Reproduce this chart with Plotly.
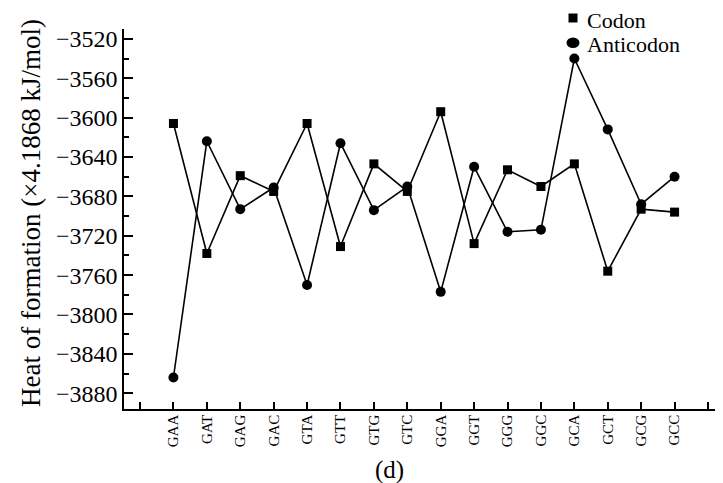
import plotly.graph_objects as go

codons = ["GAA", "GAT", "GAG", "GAC", "GTA", "GTT", "GTG", "GTC",
          "GGA", "GGT", "GGG", "GGC", "GCA", "GCT", "GCG", "GCC"]
codon_vals = [-3606, -3738, -3659, -3675, -3606, -3731, -3647, -3675,
              -3594, -3728, -3653, -3670, -3647, -3756, -3693, -3696]
anticodon_vals = [-3864, -3624, -3693, -3671, -3770, -3626, -3694, -3670,
                  -3777, -3650, -3716, -3714, -3540, -3612, -3688, -3660]
y_ticks = [-3520, -3560, -3600, -3640, -3680, -3720, -3760, -3800, -3840, -3880]

xpos = list(range(1, len(codons) + 1))
tickvals = [0] + xpos + [len(codons) + 1]
ticktext = [""] + codons + [""]

FONT = "Liberation Serif"

# page body has an 8px margin; positions below are screen pixels minus that offset
OFF = 8
W, H = 723, 483
L, R, T, B = 124 - OFF, 720 - OFF, 29 - OFF, 409 - OFF


def px(x):
    return ((x - OFF) - L) / (R - L)


def py(y):
    return 1 - ((y - OFF) - T) / (B - T)


fig = go.Figure()
fig.add_trace(go.Scatter(x=xpos, y=codon_vals, mode="lines+markers",
                         line=dict(color="black", width=1.6),
                         marker=dict(symbol="square", size=9, color="black"),
                         showlegend=False, name="Codon"))
fig.add_trace(go.Scatter(x=xpos, y=anticodon_vals, mode="lines+markers",
                         line=dict(color="black", width=1.6),
                         marker=dict(symbol="circle", size=10, color="black"),
                         showlegend=False, name="Anticodon"))

shapes = [
    dict(type="rect", xref="paper", yref="paper",
         x0=px(568.5), x1=px(577.5), y0=py(22.5), y1=py(13.5),
         fillcolor="black", line=dict(width=0)),
    dict(type="circle", xref="paper", yref="paper",
         x0=px(566.5), x1=px(579.5), y0=py(48), y1=py(37.5),
         fillcolor="black", line=dict(width=0)),
]
annotations = [
    dict(text="Codon", xref="paper", yref="paper", x=px(586), y=py(20),
         xanchor="left", yanchor="middle", showarrow=False, borderpad=0,
         font=dict(size=22, family=FONT, color="black")),
    dict(text="Anticodon", xref="paper", yref="paper", x=px(586), y=py(44),
         xanchor="left", yanchor="middle", showarrow=False, borderpad=0,
         font=dict(size=22, family=FONT, color="black")),
    dict(text="Heat of formation (×4.1868 kJ/mol)", xref="paper", yref="paper",
         x=px(31), y=py(213), xanchor="center", yanchor="middle", textangle=-90,
         showarrow=False, font=dict(size=27, family=FONT, color="black")),
    dict(text="(d)", xref="paper", yref="paper", x=px(389), y=py(470),
         xanchor="center", yanchor="middle", showarrow=False,
         font=dict(size=25, family=FONT, color="black")),
]

fig.update_layout(
    width=W, height=H, autosize=False,
    margin=dict(l=L, r=W - R, t=T, b=H - B),
    paper_bgcolor="white", plot_bgcolor="white",
    font=dict(family=FONT, color="black"),
    showlegend=False,
    shapes=shapes, annotations=annotations,
    xaxis=dict(range=[-0.48, 17.36], tickmode="array", tickvals=tickvals,
               ticktext=ticktext, tickangle=-90, ticks="inside", ticklen=7,
               tickwidth=1.5, tickcolor="black", showline=True, linecolor="black",
               linewidth=1.5, showgrid=False, zeroline=False, automargin=False,
               tickfont=dict(size=15, family=FONT), ticklabelstandoff=-2),
    yaxis=dict(range=[-3896, -3510], tickmode="array", tickvals=y_ticks,
               ticks="inside", ticklen=9, tickwidth=1.5, tickcolor="black",
               showline=True, linecolor="black", linewidth=1.5, showgrid=False,
               zeroline=False, automargin=False,
               tickfont=dict(size=24, family=FONT),
               minor=dict(ticks="inside", ticklen=5, tickwidth=1.5, tickcolor="black",
                          dtick=20, tick0=-3520, showgrid=False)),
)

fig.write_html("out.html")
